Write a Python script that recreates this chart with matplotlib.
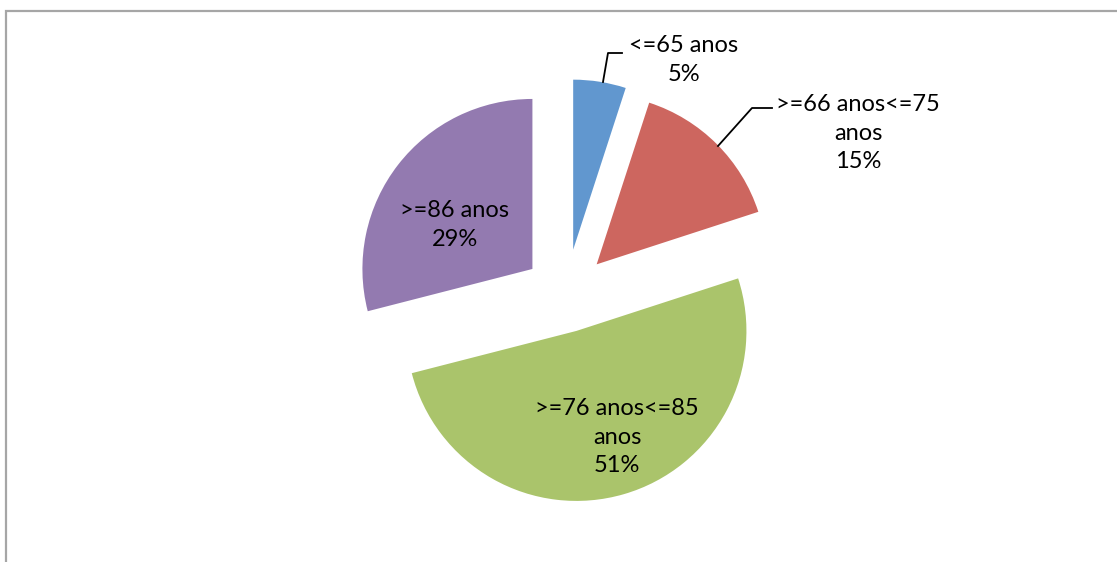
import matplotlib
matplotlib.use("Agg")
import matplotlib.pyplot as plt
from matplotlib.patches import Rectangle

plt.rcParams['font.family'] = ['Lato', 'DejaVu Sans']

categories = ['<=65 anos', '>=66 anos<=75\nanos', '>=76 anos<=85\nanos', '>=86 anos']
shares = [5, 15, 51, 29]
colors = ['#6197CF', '#CD665F', '#AAC46B', '#937AB0']
explode = [0.27, 0.255, 0.22, 0.25]   # fraction of the radius

W, H = 1117, 562
fig = plt.figure(figsize=(W / 100, H / 100), dpi=100)
ax = fig.add_axes([0, 0, 1, 1])

radius = 170
center = (566, H - 295)
# pie() offsets wedges in data units, so scale the fractions by the radius
ax.pie(shares, colors=colors, startangle=90, counterclock=False,
       explode=[e * radius for e in explode], radius=radius, center=center,
       wedgeprops=dict(linewidth=0), frame=True)
ax.set_xlim(0, W)
ax.set_ylim(0, H)
ax.set_aspect('equal')
ax.axis('off')

labels = [f"{c}\n{v}%" for c, v in zip(categories, shares)]
fs = 17
ls = 1.45
# outside labels with leader lines
ax.text(684, H - 60, labels[0], ha='center', va='center', fontsize=fs,
        linespacing=ls)
ax.plot([603, 608, 622], [H - 82, H - 53, H - 53], color='black', lw=1.3)

ax.text(858, H - 133, labels[1], ha='center', va='center', fontsize=fs,
        linespacing=ls)
ax.plot([718, 752, 772], [H - 146, H - 108, H - 108], color='black', lw=1.3)

# inside labels
ax.text(617, H - 437, labels[2], ha='center', va='center', fontsize=fs,
        linespacing=ls)
ax.text(455, H - 225, labels[3], ha='center', va='center', fontsize=fs,
        linespacing=ls)

# chart area border
fig.patches.append(Rectangle((6 / W, -0.2), 1.2, (H - 10.5) / H + 0.2,
                             transform=fig.transFigure, fill=False,
                             edgecolor='#A6A6A6', linewidth=1.6))

fig.savefig('out.png', dpi=100, facecolor='white')
